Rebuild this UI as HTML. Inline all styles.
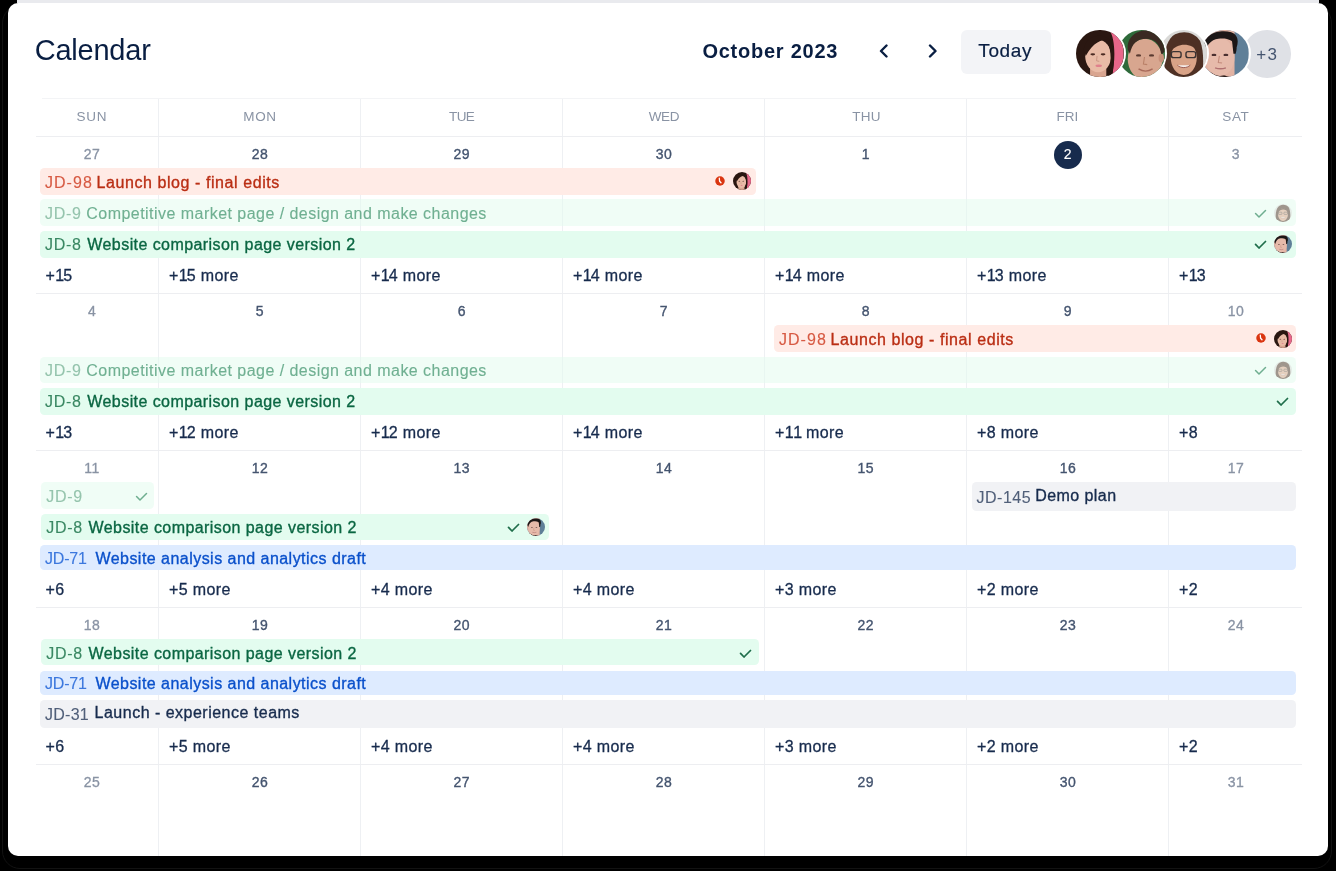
<!DOCTYPE html>
<html><head><meta charset="utf-8"><title>Calendar</title>
<style>
*{box-sizing:border-box;margin:0;padding:0}
html,body{width:1336px;height:871px;overflow:hidden;background:#000;font-family:"Liberation Sans", sans-serif}
.outl{position:absolute;left:2px;top:5px;width:1330px;height:864px;border:1px solid #121212;border-radius:18px}
.strip{position:absolute;left:17px;top:0;width:1302px;height:3px;background:#E9EAEE}
.card{position:absolute;left:8px;top:3px;width:1320px;height:853px;background:#fff;border-radius:10px;overflow:hidden}
.abs{position:absolute;left:-8px;top:-3px;width:1336px;height:871px;will-change:transform}
.grp{position:absolute;left:0;top:0;width:1336px;height:871px}
.vl{position:absolute;top:98px;width:1px;height:780px;background:#EEF0F3}
.hl{position:absolute;height:1px;background:#EDEEF1}
.tx{position:absolute;white-space:nowrap}
.dh{position:absolute;width:100px;text-align:center;font-size:13.5px;line-height:16px;color:#8993A4;letter-spacing:0.6px;text-indent:0.6px}
.dn{position:absolute;width:100px;text-align:center;font-size:14px;line-height:20px;color:#44546F;letter-spacing:0.5px;text-indent:0.5px;-webkit-text-stroke:0.35px #44546F}
.dn.we{color:#8993A4;-webkit-text-stroke:0.3px #8993A4}
.dn.td{color:#fff;-webkit-text-stroke:0.15px #fff;z-index:3}
.today{position:absolute;width:28px;height:28px;border-radius:50%;background:#172B4D;z-index:2}
.bar{position:absolute;border-radius:4.5px}
.ic{position:absolute;overflow:visible;z-index:4}
.av{position:absolute;border-radius:50%;overflow:hidden;z-index:4}
.chev{position:absolute;top:44px}
.todaybtn{position:absolute;left:961px;top:29.5px;width:90px;height:44px;border-radius:6px;background:#F3F4F7}
.plus3{position:absolute;width:47.6px;height:47.6px;border-radius:50%;background:#DFE1E6;box-shadow:0 0 0 2px #fff}
</style></head>
<body>

<div class="outl"></div>
<div class="strip"></div>
<div class="card"><div class="abs">
<div class="tx" style="left:34.70px;top:32.00px;font-size:29px;line-height:36px;color:#091E42;letter-spacing:-0.22px;">Calendar</div>
<div class="tx" style="left:702.40px;top:38.00px;font-size:20px;line-height:26px;color:#091E42;letter-spacing:0.76px;font-weight:bold;">October 2023</div>
<svg class="chev" style="left:877.5px" width="12" height="14" viewBox="0 0 12 14"><polyline points="8.5,1.5 3,7 8.5,12.5" fill="none" stroke="#091E42" stroke-width="2.4" stroke-linecap="round" stroke-linejoin="round"/></svg>
<svg class="chev" style="left:926.8px" width="12" height="14" viewBox="0 0 12 14"><polyline points="3,1.5 8.5,7 3,12.5" fill="none" stroke="#091E42" stroke-width="2.4" stroke-linecap="round" stroke-linejoin="round"/></svg>
<div class="todaybtn"></div>
<div class="tx" style="left:978.30px;top:39.00px;font-size:19px;line-height:24px;color:#091E42;letter-spacing:0.62px;-webkit-text-stroke:0.2px #091E42;">Today</div>
<svg class="av" style="left:1076.10px;top:29.85px;z-index:10;box-shadow:0 0 0 2px #fff;" width="47.6" height="47.6" viewBox="0 0 44 44"><rect width="44" height="44" fill="#2A1711"/>
<path d="M31 0 C36 8 37 26 33 44 L44 44 L44 0 Z" fill="#E8678A"/>
<rect x="13" y="32" width="15" height="12" fill="#D9A590"/>
<ellipse cx="20.5" cy="24" rx="12" ry="15" fill="#E9BBA6"/>
<path d="M7 18 C9 5 24 2 31 9 C27 8 17 9 9 24 Z" fill="#2A1711"/>
<path d="M29 12 C33 18 33 32 29 44 L33 44 C36 30 35 16 31 8 Z" fill="#2A1711"/>
<ellipse cx="15.5" cy="22.5" rx="2.2" ry="1" fill="#4A2A22"/>
<ellipse cx="25" cy="22.5" rx="2.2" ry="1" fill="#4A2A22"/>
<path d="M19.5 24 L19 28.5 L21.5 29" stroke="#C99683" stroke-width=".9" fill="none"/>
<ellipse cx="21" cy="33" rx="3" ry="1.2" fill="#E0808C"/></svg>
<svg class="av" style="left:1117.85px;top:29.85px;z-index:9;box-shadow:0 0 0 2px #fff;" width="47.6" height="47.6" viewBox="0 0 44 44"><rect width="44" height="44" fill="#2E6A3A"/>
<rect x="38" width="6" height="44" fill="#4B7F52"/>
<ellipse cx="25" cy="27" rx="16" ry="19" fill="#D8A68F"/>
<path d="M9 18 C8 5 19 0 28 0 C38 0 44 8 43 20 L40 23 C39 14 35 8 26 8 C18 8 13 12 11 22 Z" fill="#3A2A22"/>
<ellipse cx="40" cy="26" rx="2.5" ry="4" fill="#C8907A"/>
<ellipse cx="19" cy="23.5" rx="2.4" ry="1.1" fill="#5A3A30"/>
<ellipse cx="31" cy="23.5" rx="2.4" ry="1.1" fill="#5A3A30"/>
<path d="M24.5 25 L23.5 31.5 L27 32" stroke="#B98068" stroke-width="1" fill="none"/>
<path d="M19 36 C23 38.5 28 38.5 32 36" stroke="#A86A5A" stroke-width="1.3" fill="none"/></svg>
<svg class="av" style="left:1159.60px;top:29.85px;z-index:8;box-shadow:0 0 0 2px #fff;" width="47.6" height="47.6" viewBox="0 0 44 44"><rect width="44" height="44" fill="#D9D9D7"/>
<path d="M6 44 C2 30 4 9 14 4 C22 0 32 2 37 10 C41 20 40 34 39 44 Z" fill="#4E3024"/>
<ellipse cx="22" cy="26" rx="12" ry="15.5" fill="#D9A387"/>
<path d="M10 20 C12 7 32 5 35 20 C30 12 16 11 10 20 Z" fill="#4E3024"/>
<rect x="10.5" y="20" width="9" height="5.5" rx="2" fill="none" stroke="#3A3232" stroke-width="1.3"/>
<rect x="24" y="20" width="9" height="5.5" rx="2" fill="none" stroke="#3A3232" stroke-width="1.3"/>
<path d="M16 32.5 C19 35.5 25 35.5 28 32.5 Z" fill="#F4EDEA"/>
<path d="M16 32.5 C19 35.5 25 35.5 28 32.5" stroke="#9A5A50" stroke-width=".9" fill="none"/></svg>
<svg class="av" style="left:1201.35px;top:29.85px;z-index:7;box-shadow:0 0 0 2px #fff;" width="47.6" height="47.6" viewBox="0 0 44 44"><rect width="44" height="44" fill="#5F7F98"/>
<rect width="31" height="44" fill="#E2B3A3"/>
<path d="M0 44 L0 32 C4 38 12 41 22 42 L28 44 Z" fill="#2A1E1C"/>
<ellipse cx="17.5" cy="25" rx="13.5" ry="17.5" fill="#E6BAAA"/>
<path d="M1 18 C1 4 16 -1 28 2 C34 4 35 10 33 16 C30 9 24 7 16 8 C9 9 5 14 3 22 Z" fill="#1C1717"/>
<path d="M28 4 C33 8 34 16 32 22 L30 22 Z" fill="#1C1717"/>
<ellipse cx="12" cy="23" rx="2.3" ry="1.1" fill="#4A3030"/>
<ellipse cx="23" cy="23" rx="2.3" ry="1.1" fill="#4A3030"/>
<path d="M17 24 L16 30 L19.5 30.5" stroke="#C28A7A" stroke-width="1" fill="none"/>
<path d="M13 35 C16 36 20 36 23 35" stroke="#B07070" stroke-width="1.3" fill="none"/></svg>
<div class="plus3" style="left:1243.10px;top:30.00px;z-index:5"></div>
<div class="tx" style="left:1256.20px;top:45.00px;font-size:17px;line-height:20px;color:#44546F;letter-spacing:1.4px;z-index:6;">+3</div>
<div class="vl" style="left:158px"></div>
<div class="vl" style="left:360px"></div>
<div class="vl" style="left:562px"></div>
<div class="vl" style="left:764px"></div>
<div class="vl" style="left:966px"></div>
<div class="vl" style="left:1168px"></div>
<div class="hl" style="left:42px;width:1254px;top:98px;background:#F3F4F6"></div>
<div class="hl" style="left:36px;width:1266px;top:136px"></div>
<div class="hl" style="left:36px;width:1266px;top:293px"></div>
<div class="hl" style="left:36px;width:1266px;top:450px"></div>
<div class="hl" style="left:36px;width:1266px;top:607px"></div>
<div class="hl" style="left:36px;width:1266px;top:764px"></div>
<div class="tx" style="left:76.40px;top:109.00px;font-size:13.5px;line-height:16px;color:#8993A4;letter-spacing:0.8px;">SUN</div>
<div class="tx" style="left:243.30px;top:109.00px;font-size:13.5px;line-height:16px;color:#8993A4;letter-spacing:0.6px;">MON</div>
<div class="tx" style="left:449.00px;top:109.00px;font-size:13.5px;line-height:16px;color:#8993A4;letter-spacing:-0.6px;">TUE</div>
<div class="tx" style="left:648.80px;top:109.00px;font-size:13.5px;line-height:16px;color:#8993A4;letter-spacing:-0.45px;">WED</div>
<div class="tx" style="left:852.20px;top:109.00px;font-size:13.5px;line-height:16px;color:#8993A4;letter-spacing:0.25px;">THU</div>
<div class="tx" style="left:1056.60px;top:109.00px;font-size:13.5px;line-height:16px;color:#8993A4;letter-spacing:0px;">FRI</div>
<div class="tx" style="left:1222.20px;top:109.00px;font-size:13.5px;line-height:16px;color:#8993A4;letter-spacing:0.7px;">SAT</div>
<div class="dn we" style="left:41.8px;top:144.00px">27</div>
<div class="dn" style="left:209.7px;top:144.00px">28</div>
<div class="dn" style="left:411.6px;top:144.00px">29</div>
<div class="dn" style="left:613.7px;top:144.00px">30</div>
<div class="dn" style="left:815.6px;top:144.00px">1</div>
<div class="today" style="left:1053.5px;top:140.6px"></div>
<div class="dn td" style="left:1017.7px;top:144.00px">2</div>
<div class="dn we" style="left:1185.7px;top:144.00px">3</div>
<div class="dn we" style="left:41.8px;top:301.00px">4</div>
<div class="dn" style="left:209.7px;top:301.00px">5</div>
<div class="dn" style="left:411.6px;top:301.00px">6</div>
<div class="dn" style="left:613.7px;top:301.00px">7</div>
<div class="dn" style="left:815.6px;top:301.00px">8</div>
<div class="dn" style="left:1017.7px;top:301.00px">9</div>
<div class="dn we" style="left:1185.7px;top:301.00px">10</div>
<div class="dn we" style="left:41.8px;top:458.00px">11</div>
<div class="dn" style="left:209.7px;top:458.00px">12</div>
<div class="dn" style="left:411.6px;top:458.00px">13</div>
<div class="dn" style="left:613.7px;top:458.00px">14</div>
<div class="dn" style="left:815.6px;top:458.00px">15</div>
<div class="dn" style="left:1017.7px;top:458.00px">16</div>
<div class="dn we" style="left:1185.7px;top:458.00px">17</div>
<div class="dn we" style="left:41.8px;top:615.00px">18</div>
<div class="dn" style="left:209.7px;top:615.00px">19</div>
<div class="dn" style="left:411.6px;top:615.00px">20</div>
<div class="dn" style="left:613.7px;top:615.00px">21</div>
<div class="dn" style="left:815.6px;top:615.00px">22</div>
<div class="dn" style="left:1017.7px;top:615.00px">23</div>
<div class="dn we" style="left:1185.7px;top:615.00px">24</div>
<div class="dn we" style="left:41.8px;top:772.00px">25</div>
<div class="dn" style="left:209.7px;top:772.00px">26</div>
<div class="dn" style="left:411.6px;top:772.00px">27</div>
<div class="dn" style="left:613.7px;top:772.00px">28</div>
<div class="dn" style="left:815.6px;top:772.00px">29</div>
<div class="dn" style="left:1017.7px;top:772.00px">30</div>
<div class="dn we" style="left:1185.7px;top:772.00px">31</div>
<div class="tx" style="left:45.50px;top:266.00px;font-size:16px;line-height:20px;color:#172B4D;letter-spacing:0.4px;-webkit-text-stroke:0.3px #172B4D;">+<span style="letter-spacing:-0.9px">1</span>5</div>
<div class="tx" style="left:168.90px;top:266.00px;font-size:16px;line-height:20px;color:#172B4D;letter-spacing:0.4px;-webkit-text-stroke:0.3px #172B4D;">+<span style="letter-spacing:-0.9px">1</span>5 more</div>
<div class="tx" style="left:370.90px;top:266.00px;font-size:16px;line-height:20px;color:#172B4D;letter-spacing:0.4px;-webkit-text-stroke:0.3px #172B4D;">+<span style="letter-spacing:-0.9px">1</span>4 more</div>
<div class="tx" style="left:572.90px;top:266.00px;font-size:16px;line-height:20px;color:#172B4D;letter-spacing:0.4px;-webkit-text-stroke:0.3px #172B4D;">+<span style="letter-spacing:-0.9px">1</span>4 more</div>
<div class="tx" style="left:774.90px;top:266.00px;font-size:16px;line-height:20px;color:#172B4D;letter-spacing:0.4px;-webkit-text-stroke:0.3px #172B4D;">+<span style="letter-spacing:-0.9px">1</span>4 more</div>
<div class="tx" style="left:976.90px;top:266.00px;font-size:16px;line-height:20px;color:#172B4D;letter-spacing:0.4px;-webkit-text-stroke:0.3px #172B4D;">+<span style="letter-spacing:-0.9px">1</span>3 more</div>
<div class="tx" style="left:1178.90px;top:266.00px;font-size:16px;line-height:20px;color:#172B4D;letter-spacing:0.4px;-webkit-text-stroke:0.3px #172B4D;">+<span style="letter-spacing:-0.9px">1</span>3</div>
<div class="tx" style="left:45.50px;top:423.00px;font-size:16px;line-height:20px;color:#172B4D;letter-spacing:0.4px;-webkit-text-stroke:0.3px #172B4D;">+<span style="letter-spacing:-0.9px">1</span>3</div>
<div class="tx" style="left:168.90px;top:423.00px;font-size:16px;line-height:20px;color:#172B4D;letter-spacing:0.4px;-webkit-text-stroke:0.3px #172B4D;">+<span style="letter-spacing:-0.9px">1</span>2 more</div>
<div class="tx" style="left:370.90px;top:423.00px;font-size:16px;line-height:20px;color:#172B4D;letter-spacing:0.4px;-webkit-text-stroke:0.3px #172B4D;">+<span style="letter-spacing:-0.9px">1</span>2 more</div>
<div class="tx" style="left:572.90px;top:423.00px;font-size:16px;line-height:20px;color:#172B4D;letter-spacing:0.4px;-webkit-text-stroke:0.3px #172B4D;">+<span style="letter-spacing:-0.9px">1</span>4 more</div>
<div class="tx" style="left:774.90px;top:423.00px;font-size:16px;line-height:20px;color:#172B4D;letter-spacing:0.4px;-webkit-text-stroke:0.3px #172B4D;">+<span style="letter-spacing:-0.4px">1</span><span style="letter-spacing:-0.9px">1</span> more</div>
<div class="tx" style="left:976.90px;top:423.00px;font-size:16px;line-height:20px;color:#172B4D;letter-spacing:0.4px;-webkit-text-stroke:0.3px #172B4D;">+8 more</div>
<div class="tx" style="left:1178.90px;top:423.00px;font-size:16px;line-height:20px;color:#172B4D;letter-spacing:0.4px;-webkit-text-stroke:0.3px #172B4D;">+8</div>
<div class="tx" style="left:45.50px;top:580.00px;font-size:16px;line-height:20px;color:#172B4D;letter-spacing:0.4px;-webkit-text-stroke:0.3px #172B4D;">+6</div>
<div class="tx" style="left:168.90px;top:580.00px;font-size:16px;line-height:20px;color:#172B4D;letter-spacing:0.4px;-webkit-text-stroke:0.3px #172B4D;">+5 more</div>
<div class="tx" style="left:370.90px;top:580.00px;font-size:16px;line-height:20px;color:#172B4D;letter-spacing:0.4px;-webkit-text-stroke:0.3px #172B4D;">+4 more</div>
<div class="tx" style="left:572.90px;top:580.00px;font-size:16px;line-height:20px;color:#172B4D;letter-spacing:0.4px;-webkit-text-stroke:0.3px #172B4D;">+4 more</div>
<div class="tx" style="left:774.90px;top:580.00px;font-size:16px;line-height:20px;color:#172B4D;letter-spacing:0.4px;-webkit-text-stroke:0.3px #172B4D;">+3 more</div>
<div class="tx" style="left:976.90px;top:580.00px;font-size:16px;line-height:20px;color:#172B4D;letter-spacing:0.4px;-webkit-text-stroke:0.3px #172B4D;">+2 more</div>
<div class="tx" style="left:1178.90px;top:580.00px;font-size:16px;line-height:20px;color:#172B4D;letter-spacing:0.4px;-webkit-text-stroke:0.3px #172B4D;">+2</div>
<div class="tx" style="left:45.50px;top:737.00px;font-size:16px;line-height:20px;color:#172B4D;letter-spacing:0.4px;-webkit-text-stroke:0.3px #172B4D;">+6</div>
<div class="tx" style="left:168.90px;top:737.00px;font-size:16px;line-height:20px;color:#172B4D;letter-spacing:0.4px;-webkit-text-stroke:0.3px #172B4D;">+5 more</div>
<div class="tx" style="left:370.90px;top:737.00px;font-size:16px;line-height:20px;color:#172B4D;letter-spacing:0.4px;-webkit-text-stroke:0.3px #172B4D;">+4 more</div>
<div class="tx" style="left:572.90px;top:737.00px;font-size:16px;line-height:20px;color:#172B4D;letter-spacing:0.4px;-webkit-text-stroke:0.3px #172B4D;">+4 more</div>
<div class="tx" style="left:774.90px;top:737.00px;font-size:16px;line-height:20px;color:#172B4D;letter-spacing:0.4px;-webkit-text-stroke:0.3px #172B4D;">+3 more</div>
<div class="tx" style="left:976.90px;top:737.00px;font-size:16px;line-height:20px;color:#172B4D;letter-spacing:0.4px;-webkit-text-stroke:0.3px #172B4D;">+2 more</div>
<div class="tx" style="left:1178.90px;top:737.00px;font-size:16px;line-height:20px;color:#172B4D;letter-spacing:0.4px;-webkit-text-stroke:0.3px #172B4D;">+2</div>
<div class="grp" style=""><div class="bar" style="left:40px;top:168px;width:716px;height:27.00px;background:#FFEBE6"></div><div class="tx" style="left:45.00px;top:173.00px;font-size:16px;line-height:20px;color:#D75A43;letter-spacing:1.03px;-webkit-text-stroke:0.12px #D75A43;">JD-98</div><div class="tx" style="left:96.50px;top:173.00px;font-size:16px;line-height:20px;color:#BA2E14;letter-spacing:0.575px;-webkit-text-stroke:0.34px #BA2E14;">Launch blog - final edits</div></div>
<svg class="ic" style="left:713.7px;top:175.3px" width="12" height="12" viewBox="0 0 12 12"><circle cx="6" cy="6" r="4.75" fill="#DA3510"/><path d="M5.3 3.2 L5.6 6.2 L7 7.8" fill="none" stroke="#fff" stroke-width="1.3" stroke-linecap="round" stroke-linejoin="round"/></svg>
<svg class="av" style="left:733.10px;top:172.20px;z-index:4;" width="18" height="18" viewBox="0 0 44 44"><rect width="44" height="44" fill="#2A1711"/>
<path d="M31 0 C36 8 37 26 33 44 L44 44 L44 0 Z" fill="#E8678A"/>
<rect x="13" y="32" width="15" height="12" fill="#D9A590"/>
<ellipse cx="20.5" cy="24" rx="12" ry="15" fill="#E9BBA6"/>
<path d="M7 18 C9 5 24 2 31 9 C27 8 17 9 9 24 Z" fill="#2A1711"/>
<path d="M29 12 C33 18 33 32 29 44 L33 44 C36 30 35 16 31 8 Z" fill="#2A1711"/>
<ellipse cx="15.5" cy="22.5" rx="2.2" ry="1" fill="#4A2A22"/>
<ellipse cx="25" cy="22.5" rx="2.2" ry="1" fill="#4A2A22"/>
<path d="M19.5 24 L19 28.5 L21.5 29" stroke="#C99683" stroke-width=".9" fill="none"/>
<ellipse cx="21" cy="33" rx="3" ry="1.2" fill="#E0808C"/></svg>
<div class="grp" style=""><div class="bar" style="left:40px;top:199.2px;width:1256px;height:27.20px;background:rgba(227,252,239,0.55)"></div><div class="tx" style="left:45.00px;top:204.00px;font-size:16px;line-height:20px;color:#95C4AD;letter-spacing:0.73px;-webkit-text-stroke:0.12px #95C4AD;">JD-9</div><div class="tx" style="left:86.30px;top:204.00px;font-size:16px;line-height:20px;color:#70B092;letter-spacing:0.46px;-webkit-text-stroke:0.12px #70B092;">Competitive market page / design and make changes</div></div>
<svg class="ic" style="left:1253.80px;top:207.60px" width="13" height="11" viewBox="0 0 13 11"><polyline points="1.55,5.45 5,9 11.50,2.50" fill="none" stroke="#6FAE90" stroke-width="1.5" stroke-linecap="round" stroke-linejoin="round"/></svg><svg class="av" style="left:1274.00px;top:203.80px;z-index:4;opacity:0.5;" width="18" height="18" viewBox="0 0 44 44"><rect width="44" height="44" fill="#D9D9D7"/>
<path d="M6 44 C2 30 4 9 14 4 C22 0 32 2 37 10 C41 20 40 34 39 44 Z" fill="#4E3024"/>
<ellipse cx="22" cy="26" rx="12" ry="15.5" fill="#D9A387"/>
<path d="M10 20 C12 7 32 5 35 20 C30 12 16 11 10 20 Z" fill="#4E3024"/>
<rect x="10.5" y="20" width="9" height="5.5" rx="2" fill="none" stroke="#3A3232" stroke-width="1.3"/>
<rect x="24" y="20" width="9" height="5.5" rx="2" fill="none" stroke="#3A3232" stroke-width="1.3"/>
<path d="M16 32.5 C19 35.5 25 35.5 28 32.5 Z" fill="#F4EDEA"/>
<path d="M16 32.5 C19 35.5 25 35.5 28 32.5" stroke="#9A5A50" stroke-width=".9" fill="none"/></svg>
<div class="grp" style=""><div class="bar" style="left:40px;top:231px;width:1256px;height:27.00px;background:#E3FCEF"></div><div class="tx" style="left:45.00px;top:235.00px;font-size:16px;line-height:20px;color:#3A8863;letter-spacing:0.7px;-webkit-text-stroke:0.12px #3A8863;">JD-8</div><div class="tx" style="left:87.30px;top:235.00px;font-size:16px;line-height:20px;color:#0A6642;letter-spacing:0.43px;-webkit-text-stroke:0.34px #0A6642;">Website comparison page version 2</div></div>
<svg class="ic" style="left:1253.80px;top:239.00px" width="13" height="11" viewBox="0 0 13 11"><polyline points="1.55,5.45 5,9 11.50,2.50" fill="none" stroke="#1F6E4B" stroke-width="1.75" stroke-linecap="round" stroke-linejoin="round"/></svg>
<svg class="av" style="left:1274.00px;top:235.20px;z-index:4;" width="18" height="18" viewBox="0 0 44 44"><rect width="44" height="44" fill="#5F7F98"/>
<rect width="31" height="44" fill="#E2B3A3"/>
<path d="M0 44 L0 32 C4 38 12 41 22 42 L28 44 Z" fill="#2A1E1C"/>
<ellipse cx="17.5" cy="25" rx="13.5" ry="17.5" fill="#E6BAAA"/>
<path d="M1 18 C1 4 16 -1 28 2 C34 4 35 10 33 16 C30 9 24 7 16 8 C9 9 5 14 3 22 Z" fill="#1C1717"/>
<path d="M28 4 C33 8 34 16 32 22 L30 22 Z" fill="#1C1717"/>
<ellipse cx="12" cy="23" rx="2.3" ry="1.1" fill="#4A3030"/>
<ellipse cx="23" cy="23" rx="2.3" ry="1.1" fill="#4A3030"/>
<path d="M17 24 L16 30 L19.5 30.5" stroke="#C28A7A" stroke-width="1" fill="none"/>
<path d="M13 35 C16 36 20 36 23 35" stroke="#B07070" stroke-width="1.3" fill="none"/></svg>
<div class="grp" style=""><div class="bar" style="left:774px;top:325.2px;width:522px;height:26.60px;background:#FFEBE6"></div><div class="tx" style="left:779.00px;top:330.00px;font-size:16px;line-height:20px;color:#D75A43;letter-spacing:1.03px;-webkit-text-stroke:0.12px #D75A43;">JD-98</div><div class="tx" style="left:830.50px;top:330.00px;font-size:16px;line-height:20px;color:#BA2E14;letter-spacing:0.575px;-webkit-text-stroke:0.34px #BA2E14;">Launch blog - final edits</div></div>
<svg class="ic" style="left:1254.6px;top:332.3px" width="12" height="12" viewBox="0 0 12 12"><circle cx="6" cy="6" r="4.75" fill="#DA3510"/><path d="M5.3 3.2 L5.6 6.2 L7 7.8" fill="none" stroke="#fff" stroke-width="1.3" stroke-linecap="round" stroke-linejoin="round"/></svg>
<svg class="av" style="left:1274.00px;top:329.60px;z-index:4;" width="18" height="18" viewBox="0 0 44 44"><rect width="44" height="44" fill="#2A1711"/>
<path d="M31 0 C36 8 37 26 33 44 L44 44 L44 0 Z" fill="#E8678A"/>
<rect x="13" y="32" width="15" height="12" fill="#D9A590"/>
<ellipse cx="20.5" cy="24" rx="12" ry="15" fill="#E9BBA6"/>
<path d="M7 18 C9 5 24 2 31 9 C27 8 17 9 9 24 Z" fill="#2A1711"/>
<path d="M29 12 C33 18 33 32 29 44 L33 44 C36 30 35 16 31 8 Z" fill="#2A1711"/>
<ellipse cx="15.5" cy="22.5" rx="2.2" ry="1" fill="#4A2A22"/>
<ellipse cx="25" cy="22.5" rx="2.2" ry="1" fill="#4A2A22"/>
<path d="M19.5 24 L19 28.5 L21.5 29" stroke="#C99683" stroke-width=".9" fill="none"/>
<ellipse cx="21" cy="33" rx="3" ry="1.2" fill="#E0808C"/></svg>
<div class="grp" style=""><div class="bar" style="left:40px;top:356.7px;width:1256px;height:26.80px;background:rgba(227,252,239,0.55)"></div><div class="tx" style="left:45.00px;top:361.00px;font-size:16px;line-height:20px;color:#95C4AD;letter-spacing:0.73px;-webkit-text-stroke:0.12px #95C4AD;">JD-9</div><div class="tx" style="left:86.30px;top:361.00px;font-size:16px;line-height:20px;color:#70B092;letter-spacing:0.46px;-webkit-text-stroke:0.12px #70B092;">Competitive market page / design and make changes</div></div>
<svg class="ic" style="left:1253.80px;top:364.60px" width="13" height="11" viewBox="0 0 13 11"><polyline points="1.55,5.45 5,9 11.50,2.50" fill="none" stroke="#6FAE90" stroke-width="1.5" stroke-linecap="round" stroke-linejoin="round"/></svg><svg class="av" style="left:1274.00px;top:361.00px;z-index:4;opacity:0.5;" width="18" height="18" viewBox="0 0 44 44"><rect width="44" height="44" fill="#D9D9D7"/>
<path d="M6 44 C2 30 4 9 14 4 C22 0 32 2 37 10 C41 20 40 34 39 44 Z" fill="#4E3024"/>
<ellipse cx="22" cy="26" rx="12" ry="15.5" fill="#D9A387"/>
<path d="M10 20 C12 7 32 5 35 20 C30 12 16 11 10 20 Z" fill="#4E3024"/>
<rect x="10.5" y="20" width="9" height="5.5" rx="2" fill="none" stroke="#3A3232" stroke-width="1.3"/>
<rect x="24" y="20" width="9" height="5.5" rx="2" fill="none" stroke="#3A3232" stroke-width="1.3"/>
<path d="M16 32.5 C19 35.5 25 35.5 28 32.5 Z" fill="#F4EDEA"/>
<path d="M16 32.5 C19 35.5 25 35.5 28 32.5" stroke="#9A5A50" stroke-width=".9" fill="none"/></svg>
<div class="grp" style=""><div class="bar" style="left:40px;top:388px;width:1256px;height:26.80px;background:#E3FCEF"></div><div class="tx" style="left:45.00px;top:392.00px;font-size:16px;line-height:20px;color:#3A8863;letter-spacing:0.7px;-webkit-text-stroke:0.12px #3A8863;">JD-8</div><div class="tx" style="left:87.30px;top:392.00px;font-size:16px;line-height:20px;color:#0A6642;letter-spacing:0.43px;-webkit-text-stroke:0.34px #0A6642;">Website comparison page version 2</div></div>
<svg class="ic" style="left:1276.30px;top:396.20px" width="13" height="11" viewBox="0 0 13 11"><polyline points="1.55,5.45 5,9 11.50,2.50" fill="none" stroke="#1F6E4B" stroke-width="1.75" stroke-linecap="round" stroke-linejoin="round"/></svg>
<div class="grp" style=""><div class="bar" style="left:41.2px;top:482.3px;width:112.8px;height:26.50px;background:rgba(227,252,239,0.55)"></div><div class="tx" style="left:46.20px;top:487.00px;font-size:16px;line-height:20px;color:#95C4AD;letter-spacing:0.73px;-webkit-text-stroke:0.12px #95C4AD;">JD-9</div></div>
<svg class="ic" style="left:134.60px;top:491.00px" width="13" height="11" viewBox="0 0 13 11"><polyline points="1.55,5.45 5,9 11.50,2.50" fill="none" stroke="#6FAE90" stroke-width="1.5" stroke-linecap="round" stroke-linejoin="round"/></svg>
<div class="grp" style=""><div class="bar" style="left:971.6px;top:482px;width:324.4px;height:28.80px;background:#F1F2F5"></div><div class="tx" style="left:976.60px;top:488.00px;font-size:16px;line-height:20px;color:#505F79;letter-spacing:0.48px;-webkit-text-stroke:0.12px #505F79;">JD-145</div><div class="tx" style="left:1035.20px;top:486.00px;font-size:16px;line-height:20px;color:#172B4D;letter-spacing:0.44px;-webkit-text-stroke:0.34px #172B4D;">Demo plan</div></div>
<div class="grp" style=""><div class="bar" style="left:41.2px;top:513.6px;width:507.8px;height:26.70px;background:#E3FCEF"></div><div class="tx" style="left:46.20px;top:518.00px;font-size:16px;line-height:20px;color:#3A8863;letter-spacing:0.7px;-webkit-text-stroke:0.12px #3A8863;">JD-8</div><div class="tx" style="left:88.50px;top:518.00px;font-size:16px;line-height:20px;color:#0A6642;letter-spacing:0.43px;-webkit-text-stroke:0.34px #0A6642;">Website comparison page version 2</div></div>
<svg class="ic" style="left:506.80px;top:521.90px" width="13" height="11" viewBox="0 0 13 11"><polyline points="1.55,5.45 5,9 11.50,2.50" fill="none" stroke="#1F6E4B" stroke-width="1.75" stroke-linecap="round" stroke-linejoin="round"/></svg>
<svg class="av" style="left:526.50px;top:518.00px;z-index:4;" width="18" height="18" viewBox="0 0 44 44"><rect width="44" height="44" fill="#5F7F98"/>
<rect width="31" height="44" fill="#E2B3A3"/>
<path d="M0 44 L0 32 C4 38 12 41 22 42 L28 44 Z" fill="#2A1E1C"/>
<ellipse cx="17.5" cy="25" rx="13.5" ry="17.5" fill="#E6BAAA"/>
<path d="M1 18 C1 4 16 -1 28 2 C34 4 35 10 33 16 C30 9 24 7 16 8 C9 9 5 14 3 22 Z" fill="#1C1717"/>
<path d="M28 4 C33 8 34 16 32 22 L30 22 Z" fill="#1C1717"/>
<ellipse cx="12" cy="23" rx="2.3" ry="1.1" fill="#4A3030"/>
<ellipse cx="23" cy="23" rx="2.3" ry="1.1" fill="#4A3030"/>
<path d="M17 24 L16 30 L19.5 30.5" stroke="#C28A7A" stroke-width="1" fill="none"/>
<path d="M13 35 C16 36 20 36 23 35" stroke="#B07070" stroke-width="1.3" fill="none"/></svg>
<div class="grp" style=""><div class="bar" style="left:40px;top:545px;width:1256px;height:24.60px;background:#DEEBFF"></div><div class="tx" style="left:45.00px;top:549.00px;font-size:16px;line-height:20px;color:#3C78DE;letter-spacing:-0.2px;-webkit-text-stroke:0.12px #3C78DE;">JD-71</div><div class="tx" style="left:95.40px;top:549.00px;font-size:16px;line-height:20px;color:#0A50CB;letter-spacing:0.466px;-webkit-text-stroke:0.34px #0A50CB;">Website analysis and analytics draft</div></div>
<div class="grp" style=""><div class="bar" style="left:41.2px;top:639.2px;width:717.8px;height:26.30px;background:#E3FCEF"></div><div class="tx" style="left:46.20px;top:644.00px;font-size:16px;line-height:20px;color:#3A8863;letter-spacing:0.7px;-webkit-text-stroke:0.12px #3A8863;">JD-8</div><div class="tx" style="left:88.50px;top:644.00px;font-size:16px;line-height:20px;color:#0A6642;letter-spacing:0.43px;-webkit-text-stroke:0.34px #0A6642;">Website comparison page version 2</div></div>
<svg class="ic" style="left:738.80px;top:647.80px" width="13" height="11" viewBox="0 0 13 11"><polyline points="1.55,5.45 5,9 11.50,2.50" fill="none" stroke="#1F6E4B" stroke-width="1.75" stroke-linecap="round" stroke-linejoin="round"/></svg>
<div class="grp" style=""><div class="bar" style="left:40px;top:670.6px;width:1256px;height:24.40px;background:#DEEBFF"></div><div class="tx" style="left:45.00px;top:674.00px;font-size:16px;line-height:20px;color:#3C78DE;letter-spacing:-0.2px;-webkit-text-stroke:0.12px #3C78DE;">JD-71</div><div class="tx" style="left:95.40px;top:674.00px;font-size:16px;line-height:20px;color:#0A50CB;letter-spacing:0.466px;-webkit-text-stroke:0.34px #0A50CB;">Website analysis and analytics draft</div></div>
<div class="grp" style=""><div class="bar" style="left:40px;top:700.3px;width:1256px;height:27.70px;background:#F1F2F5"></div><div class="tx" style="left:45.00px;top:705.00px;font-size:16px;line-height:20px;color:#505F79;letter-spacing:0.25px;-webkit-text-stroke:0.12px #505F79;">JD-31</div><div class="tx" style="left:94.60px;top:703.00px;font-size:16px;line-height:20px;color:#172B4D;letter-spacing:0.49px;-webkit-text-stroke:0.34px #172B4D;">Launch - experience teams</div></div>
</div></div>
</body></html>
